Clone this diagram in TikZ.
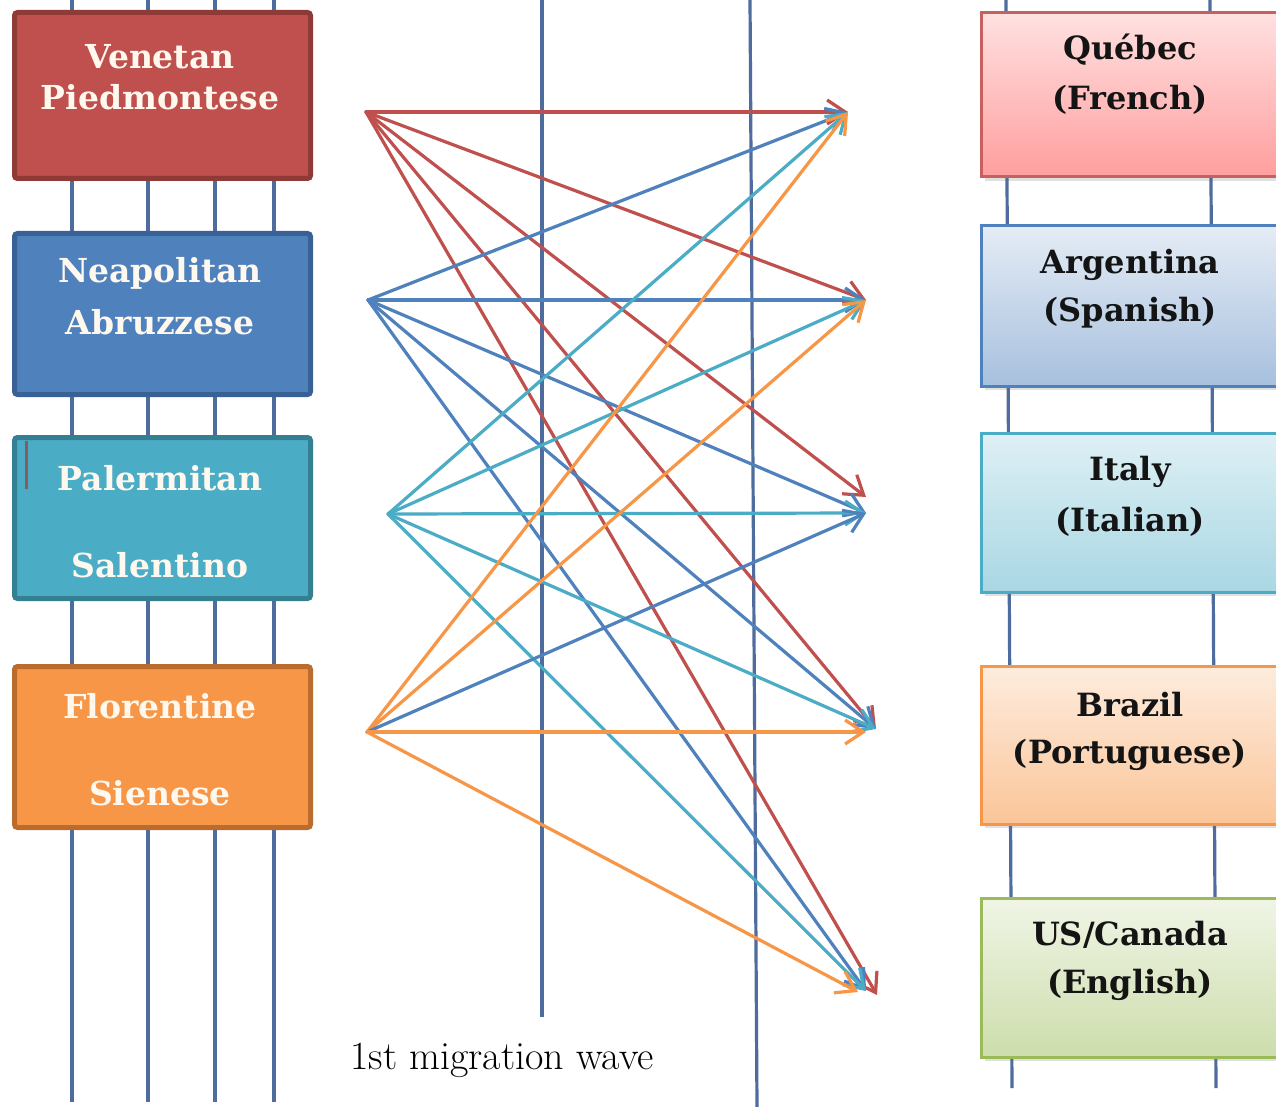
\documentclass[tikz,border=0pt]{standalone}
\usepackage{fontspec}
\newfontfamily\boxfont{DejaVu Serif}
\usetikzlibrary{arrows.meta,shadows}
\definecolor{vline}{HTML}{4F6C9E}
\definecolor{cRed}{HTML}{C0504D}
\definecolor{cRedD}{HTML}{8E3B38}
\definecolor{cBlue}{HTML}{4F81BD}
\definecolor{cBlueD}{HTML}{3A6196}
\definecolor{cCyan}{HTML}{4BACC6}
\definecolor{cCyanD}{HTML}{357F93}
\definecolor{cOrange}{HTML}{F79646}
\definecolor{cOrangeD}{HTML}{BA6C2E}
\definecolor{cGreen}{HTML}{9BBB59}
\definecolor{lText}{HTML}{FFF8EE}
\definecolor{rText}{HTML}{141414}
\definecolor{stray}{HTML}{8B5A5A}
\tikzset{
  vl/.style={draw=vline, line width=3.2pt},
  lbox/.style={draw, line width=5pt, rounded corners=3pt, minimum width=296pt, inner sep=0pt},
  rbox/.style={draw, line width=3pt, minimum width=320pt, inner sep=0pt,
    drop shadow={shadow xshift=3pt, shadow yshift=-4pt, opacity=0.2, fill=black!60}},
  ltext/.style={text=lText, font=\boxfont\bfseries\fontsize{33}{40}\selectfont, inner sep=0pt},
  rtext/.style={text=rText, font=\boxfont\bfseries\fontsize{32}{40}\selectfont, inner sep=0pt},
  arr/.style={line width=3.2pt, line cap=round, -{Straight Barb[length=18pt,width=24pt,line width=3.2pt]}}
}
\begin{document}
\begin{tikzpicture}[x=1pt,y=-1pt]
\useasboundingbox (0,0) rectangle (1276,1107);
\fill[white] (0,0) rectangle (1276,1107);

% vertical lines
\foreach \xx in {72,148,215,274} \draw[vl] (\xx,0) -- (\xx,1102);
\draw[vl] (542,0) -- (542,1017);
\draw[vl] (750,0) -- (757,1107);
\draw[vl] (1006,0) -- (1012,1088);
\draw[vl] (1210,0) -- (1216,1088);

% left boxes
\node[lbox, fill=cRed, draw=cRedD, minimum height=166pt] (ven) at (162.5,95.5) {};
\node[lbox, fill=cBlue, draw=cBlueD, minimum height=161pt] (nea) at (162.5,314) {};
\node[lbox, fill=cCyan, draw=cCyanD, minimum height=161pt] (pal) at (162.5,518) {};
\node[lbox, fill=cOrange, draw=cOrangeD, minimum height=161pt] (flo) at (162.5,747) {};
\draw[stray, line width=3pt] (26,441) -- (26,489);

\node[ltext] (venA) at (160,57) {Venetan};
\node[ltext] (venB) at (160,97) {Piedmontese};
\node[ltext] (neaA) at (160,273) {Neapolitan};
\node[ltext] (neaB) at (160,322) {Abruzzese};
\node[ltext] (palA) at (160,478) {Palermitan};
\node[ltext] (palB) at (160,565) {Salentino};
\node[ltext] (floA) at (160,706) {Florentine};
\node[ltext] (floB) at (160,793) {Sienese};

% right boxes
\node[rbox, draw=cRed!90, top color=red!12!white, bottom color=red!38!white, minimum height=164pt] (que) at (1141.5,95) {};
\node[rbox, draw=cBlue, top color=cBlue!15!white, bottom color=cBlue!50!white, minimum height=160pt] (arg) at (1141.5,306) {};
\node[rbox, draw=cCyan, top color=cCyan!18!white, bottom color=cCyan!48!white, minimum height=159pt] (ita) at (1141.5,512.5) {};
\node[rbox, draw=cOrange, top color=cOrange!18!white, bottom color=cOrange!55!white, minimum height=158pt] (bra) at (1141.5,745) {};
\node[rbox, draw=cGreen, top color=cGreen!15!white, bottom color=cGreen!50!white, minimum height=159pt] (usc) at (1141.5,977.5) {};

\node[rtext] (queA) at (1130,50) {Québec};
\node[rtext] (queB) at (1130,100) {(French)};
\node[rtext] (argA) at (1130,265) {Argentina};
\node[rtext] (argB) at (1130,313) {(Spanish)};
\node[rtext] (itaA) at (1130,472) {Italy};
\node[rtext] (itaB) at (1130,522) {(Italian)};
\node[rtext] (braA) at (1130,705) {Brazil};
\node[rtext] (braB) at (1130,755) {(Portuguese)};
\node[rtext] (uscA) at (1130,935) {US/Canada};
\node[rtext] (uscB) at (1130,985) {(English)};

\node[text=black, font=\fontsize{40}{44}\selectfont, inner sep=0pt] (wave) at (502,1060) {1st migration wave};

% sources and targets
\coordinate (sR) at (366,112);
\coordinate (sB) at (368,300);
\coordinate (sC) at (388,514);
\coordinate (sO) at (367,732);
\coordinate (tQ) at (848,112);
\coordinate (tA) at (866,300);
\coordinate (tIr) at (866,497);
\coordinate (tI) at (866,513);
\coordinate (tB) at (876,729);
\coordinate (tBo) at (866,732);
\coordinate (tUr) at (877,995);
\coordinate (tU) at (866,991);
\coordinate (tUo) at (858,992);

% red
\draw[arr, cRed] (sR) -- (tQ);
\draw[arr, cRed] (sR) -- (tA);
\draw[arr, cRed] (sR) -- (tIr);
\draw[arr, cRed] (sR) -- (tB);
\draw[arr, cRed] (sR) -- (tUr);
% blue
\draw[arr, cBlue] (sB) -- (tQ);
\draw[arr, cBlue] (sB) -- (tA);
\draw[arr, cBlue] (sB) -- (tI);
\draw[arr, cBlue] (sB) -- (tB);
\draw[arr, cBlue] (sB) -- (tU);
% cyan
\draw[arr, cCyan] (sC) -- (tQ);
\draw[arr, cCyan] (sC) -- (tA);
\draw[arr, cCyan] (sC) -- (tI);
\draw[arr, cCyan] (sC) -- (tB);
\draw[arr, cCyan] (sC) -- (tU);
% orange
\draw[arr, cOrange] (sO) -- (tQ);
\draw[arr, cOrange] (sO) -- (tA);
\draw[arr, cBlue] (sO) -- (tI);
\draw[arr, cOrange] (sO) -- (tBo);
\draw[arr, cOrange] (sO) -- (tUo);
\end{tikzpicture}
\end{document}
